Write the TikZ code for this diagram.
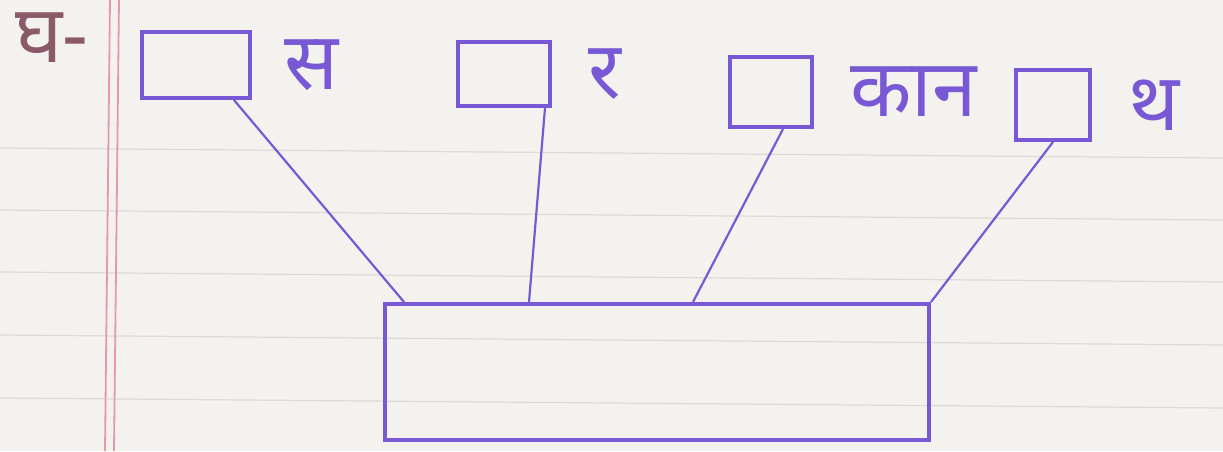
\documentclass[tikz,border=0pt]{standalone}
\usepackage{fontspec}
\newfontfamily\devfont[Script=Devanagari]{Noto Sans}
\usetikzlibrary{positioning}
\definecolor{inkpurple}{HTML}{7858D4}
\definecolor{inkbrown}{HTML}{8A5A6A}
\definecolor{paper}{HTML}{F4F2EF}
\definecolor{ruling}{HTML}{DDD9D7}
\definecolor{marginred}{HTML}{E39AA4}

\begin{document}
\begin{tikzpicture}[
  x=0.5pt, y=-0.5pt,
  blankbox/.style={rectangle, draw=inkpurple, line width=2pt, inner sep=0pt},
  wordlab/.style={font=\devfont\fontsize{40}{44}\selectfont, text=inkpurple,
                  inner sep=0pt},
  joinline/.style={draw=inkpurple, line width=1.1pt}
]

% ---- Paper --------------------------------------------------------------------
\fill[paper] (0,0) rectangle (1223,451);
\useasboundingbox (0,0) rectangle (1223,451);
\foreach \y in {148,210,272,335,398}
  \draw[ruling, line width=0.6pt] (0,\y) -- (1223,\y+10);
\draw[marginred, line width=0.9pt] (110,0) -- (105,451);
\draw[marginred, line width=0.9pt] (119,0) -- (114,451);

% ---- Question mark and blanks -------------------------------------------------
\node[wordlab, text=inkbrown] (qmark) at (52,38) {घ-};

\node[blankbox, minimum width=54pt, minimum height=33pt] (box1) at (196,65) {};
\node[blankbox, minimum width=46pt, minimum height=32pt] (box2) at (504,74) {};
\node[blankbox, minimum width=41pt, minimum height=35pt] (box3) at (771,92) {};
\node[blankbox, minimum width=37pt, minimum height=35pt] (box4) at (1053,105) {};

\node[wordlab, right=16pt of box1] (lab1) {स};
\node[wordlab, right=18pt of box2] (lab2) {र};
\node[wordlab, right=18pt of box3] (lab3) {कान};
\node[wordlab, right=18pt of box4] (lab4) {थ};

% ---- Answer box ---------------------------------------------------------------
\node[blankbox, minimum width=272pt, minimum height=68pt] (main) at (657,372) {};

\draw[joinline] ([xshift=-9pt]box1.south east) -- ([xshift=10.5pt]main.north west);
\draw[joinline] ([xshift=20.5pt]box2.south) -- ([xshift=73pt]main.north west);
\draw[joinline] ([xshift=-15.5pt]box3.south east) -- ([xshift=155pt]main.north west);
\draw[joinline] (box4.south) -- (main.north east);

\end{tikzpicture}
\end{document}
